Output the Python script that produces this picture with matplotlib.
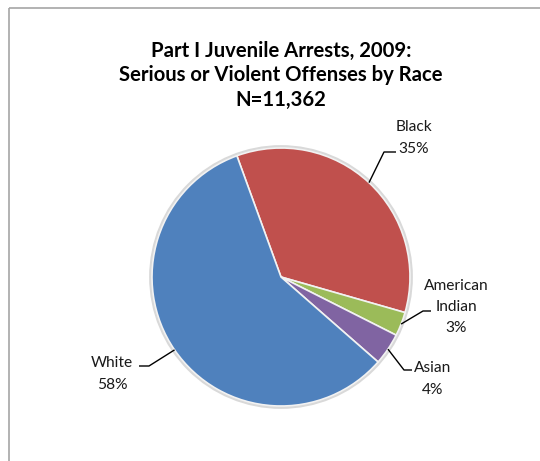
import matplotlib
matplotlib.use("Agg")
import matplotlib.pyplot as plt
from matplotlib.patches import Rectangle, Circle
import numpy as np

plt.rcParams["font.family"] = ["Lato", "DejaVu Sans"]

# share of Part I juvenile arrests by race
races = ["Black", "American\nIndian", "Asian", "White"]
shares = [35, 3, 4, 58]
colors = ["#C0504D", "#9BBB59", "#8064A2", "#4F81BD"]

title = "Part I Juvenile Arrests, 2009:\nSerious or Violent Offenses by Race\nN=11,362"

W, H = 540, 461
fig = plt.figure(figsize=(W / 100, H / 100), dpi=100)
ax = fig.add_axes([0, 0, 1, 1])

cx, cy, r = 281, 277, 129
# y axis runs downward, so counterclockwise in data is clockwise on screen
ax.add_patch(Circle((cx, cy), r + 1.5, facecolor="none", edgecolor="#D9D9D9", lw=2, zorder=0))
wedges, _ = ax.pie(shares, colors=colors, startangle=-110, counterclock=True,
                   center=(cx, cy), radius=r,
                   wedgeprops=dict(edgecolor="#F2F2F2", linewidth=1.2))

ax.set_xlim(0, W)
ax.set_ylim(H, 0)
ax.set_aspect("equal")
ax.axis("off")

# elbow point, end of the leader line, and label centre for each slice
elbows = [(384, 152), (423, 311), (404, 370), (149, 366)]
ends = [(396, 152), (431, 311), (412, 370), (139, 366)]
label_pos = [(414, 138), (456, 307), (433, 379), (112, 374)]

for w, name, s, el, en, lp in zip(wedges, races, shares, elbows, ends, label_pos):
    mid = np.deg2rad((w.theta1 + w.theta2) / 2)
    sx = cx + r * np.cos(mid)
    sy = cy + r * np.sin(mid)
    ax.plot([sx, el[0], en[0]], [sy, el[1], en[1]], color="black", lw=1, solid_capstyle="butt")
    ax.text(lp[0], lp[1], f"{name}\n{s}%", ha="center", va="center",
            fontsize=11.2, linespacing=1.68, color="#1a1a1a")

ax.text(281, 75, title, ha="center", va="center", fontsize=14.6, fontweight="bold",
        linespacing=1.28, color="black")

ax.add_patch(Rectangle((8.5, 8.5), 700, 700, facecolor="none", edgecolor="#A6A6A6", lw=1.2))

fig.savefig("out.png", dpi=100)
